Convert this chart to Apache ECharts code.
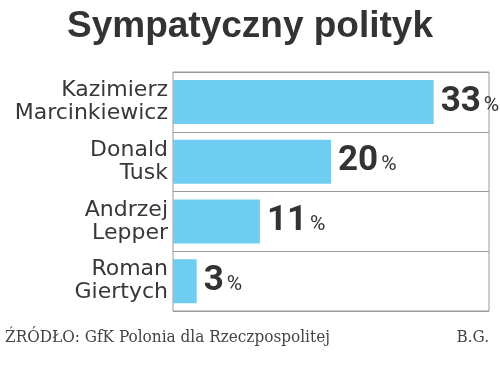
<!DOCTYPE html>
<html>
<head>
<meta charset="utf-8">
<script src="https://cdn.jsdelivr.net/npm/echarts@6/dist/echarts.min.js"></script>
<style>html,body{margin:0;padding:0;background:#fff}#c{width:500px;height:366px}</style>
</head>
<body>
<div id="c"></div>
<script>
const categories = ['Kazimierz Marcinkiewicz', 'Donald Tusk', 'Andrzej Lepper', 'Roman Giertych'];
const values = [33, 20, 11, 3];
const titleText = 'Sympatyczny polityk';
const sourceText = 'ŹRÓDŁO: GfK Polonia dla Rzeczpospolitej';
const authorText = 'B.G.';

const chart = echarts.init(document.getElementById('c'), null, {renderer: 'canvas'});
chart.setOption({
  backgroundColor: '#fff',
  animation: false,
  title: [
    {text: titleText, left: 'center', top: 3,
     textStyle: {fontFamily: 'Liberation Sans', fontWeight: 'bold', fontSize: 37, color: '#333'}},
    {text: sourceText, left: 0, top: 324,
     textStyle: {fontFamily: 'DejaVu Serif Condensed', fontWeight: 'normal', fontSize: 17, color: '#444'}},
    {text: authorText, right: 6, top: 324,
     textStyle: {fontFamily: 'DejaVu Serif Condensed', fontWeight: 'normal', fontSize: 17, color: '#444'}}
  ],
  grid: {left: 173, right: 11, top: 72, bottom: 55, show: true, borderColor: '#999', borderWidth: 1, containLabel: false},
  xAxis: {type: 'value', min: 0, max: 40, show: false},
  yAxis: {
    type: 'category', data: categories, inverse: true,
    axisLine: {show: false}, axisTick: {show: false},
    splitLine: {show: true, lineStyle: {color: '#999', width: 1}},
    axisLabel: {
      margin: 5, fontFamily: 'DejaVu Sans', fontSize: 22, color: '#383838', lineHeight: 23, align: 'right',
      formatter: v => v.replace(' ', '\n')
    }
  },
  series: [{
    type: 'bar', data: values, barWidth: 44,
    itemStyle: {color: '#6fcdf1'},
    label: {
      show: true, position: 'right', distance: 7,
      formatter: p => '{a|' + p.value + '}{b|%}',
      rich: {
        a: {fontFamily: 'Roboto', fontWeight: 'bold', fontSize: 35, color: '#333'},
        b: {fontFamily: 'Roboto', fontSize: 21, color: '#333', padding: [7, 0, 0, 3]}
      }
    }
  }]
});
</script>
</body>
</html>
